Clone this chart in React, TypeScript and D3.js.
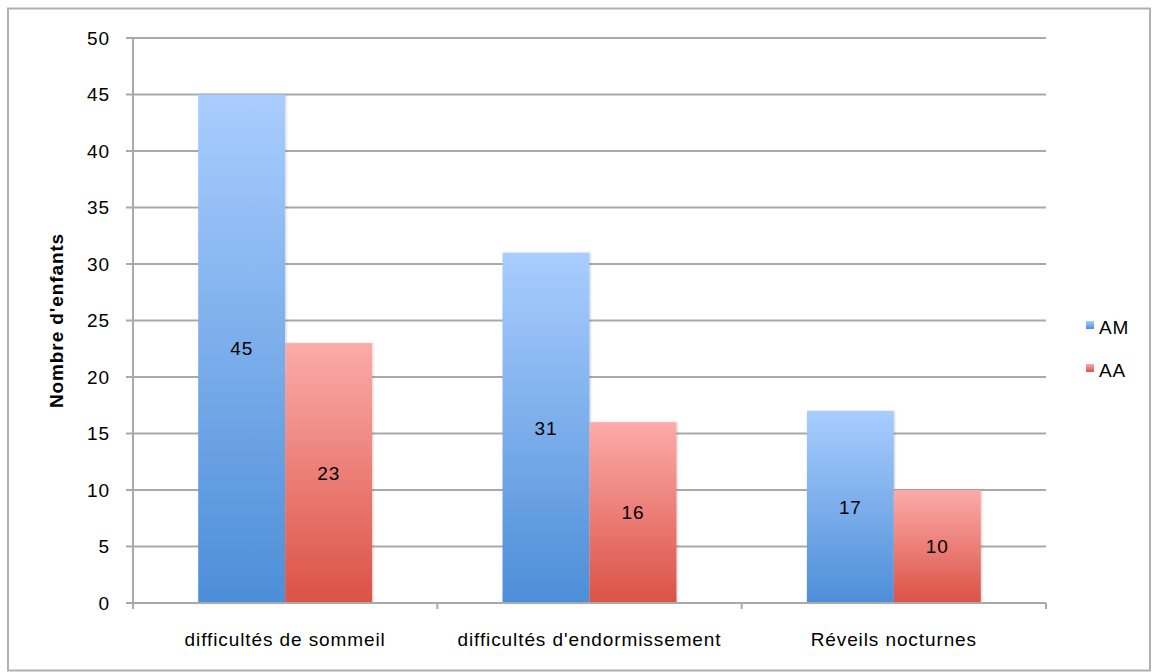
import React from "react";
import * as d3 from "d3";

const categories = ["difficultés de sommeil", "difficultés d'endormissement", "Réveils nocturnes"];
const seriesNames = ["AM", "AA"];
const amValues = [45, 31, 17];
const aaValues = [23, 16, 10];
const yTicks = [0, 5, 10, 15, 20, 25, 30, 35, 40, 45, 50];

const W = 1152;
const H = 672;
const plotLeft = 133;
const plotRight = 1046;
const plotTop = 38;
const plotBottom = 603;

export default function App() {
  const x = d3.scaleBand<string>().domain(categories).range([plotLeft, plotRight]).paddingInner(0).paddingOuter(0);
  const inner = d3.scaleBand<string>().domain(seriesNames).range([0, x.bandwidth()]).paddingInner(0).paddingOuter(0.75);
  const y = d3.scaleLinear().domain([0, 50]).range([plotBottom, plotTop]);
  const values: Record<string, number[]> = { AM: amValues, AA: aaValues };
  const font = "Liberation Sans, Arial, sans-serif";
  const fs = 19;
  const ls = 0.9;
  const grid = "#a9a9a9";

  return (
    <svg width={W} height={H} style={{ position: "absolute", left: 0, top: 0 }}>
      <defs>
        <linearGradient id="gAM" x1="0" y1="0" x2="0" y2="1">
          <stop offset="0" stopColor="#a9cdfe" />
          <stop offset="1" stopColor="#4d8ed8" />
        </linearGradient>
        <linearGradient id="gAA" x1="0" y1="0" x2="0" y2="1">
          <stop offset="0" stopColor="#fcaba9" />
          <stop offset="1" stopColor="#db5246" />
        </linearGradient>
        <filter id="sh" x="-10%" y="-10%" width="120%" height="120%">
          <feDropShadow dx="1" dy="0" stdDeviation="1.2" floodColor="#000" floodOpacity="0.18" />
        </filter>
      </defs>
      <rect x={0} y={0} width={W} height={H} fill="#fff" />
      <rect x={8} y={8.5} width={1142} height={662} fill="none" stroke="#b0b0b0" strokeWidth={2} />
      {yTicks.map((t) => (
        <g key={t}>
          <line x1={plotLeft - 7} x2={plotRight} y1={y(t)} y2={y(t)} stroke={grid} strokeWidth={2} />
          <text x={110} y={y(t)} dy="0.35em" textAnchor="end" fontFamily={font} fontSize={fs} letterSpacing={ls} fill="#000">
            {t}
          </text>
        </g>
      ))}
      <line x1={plotLeft} x2={plotLeft} y1={plotTop} y2={plotBottom + 6} stroke={grid} strokeWidth={2} />
      {[...categories.map((c) => x(c) as number), plotRight].map((xx, i) => (
        <line key={i} x1={xx} x2={xx} y1={plotBottom} y2={plotBottom + 6} stroke={grid} strokeWidth={2} />
      ))}
      {categories.map((c, ci) => (
        <g key={c}>
          {seriesNames.map((s) => {
            const v = values[s][ci];
            const bx = (x(c) as number) + (inner(s) as number);
            return (
              <g key={s}>
                <rect
                  x={bx}
                  y={y(v)}
                  width={inner.bandwidth()}
                  height={plotBottom - y(v)}
                  fill={`url(#g${s})`}
                  filter="url(#sh)"
                />
                <text
                  x={bx + inner.bandwidth() / 2}
                  y={(y(v) + plotBottom) / 2}
                  dy="0.35em"
                  textAnchor="middle"
                  fontFamily={font}
                  fontSize={fs}
                  letterSpacing={ls}
                  fill="#000"
                >
                  {v}
                </text>
              </g>
            );
          })}
          <text
            x={(x(c) as number) + x.bandwidth() / 2}
            y={639}
            dy="0.35em"
            textAnchor="middle"
            fontFamily={font}
            fontSize={fs}
            letterSpacing={ls}
            fill="#000"
          >
            {c}
          </text>
        </g>
      ))}
      <line x1={plotLeft - 7} x2={plotRight} y1={plotBottom} y2={plotBottom} stroke={grid} strokeWidth={2} />
      <text
        transform={`translate(56, ${(plotTop + plotBottom) / 2}) rotate(-90)`}
        textAnchor="middle"
        dy="0.35em"
        fontFamily={font}
        fontSize={19}
        letterSpacing={0.9}
        fontWeight="bold"
        fill="#000"
      >
        Nombre d'enfants
      </text>
      {seriesNames.map((s, i) => (
        <g key={s}>
          <rect x={1086} y={321 + i * 43} width={8} height={8} fill={`url(#g${s})`} />
          <text x={1099} y={327 + i * 43} dy="0.35em" fontFamily={font} fontSize={fs} letterSpacing={ls} fill="#000">
            {s}
          </text>
        </g>
      ))}
    </svg>
  );
}
